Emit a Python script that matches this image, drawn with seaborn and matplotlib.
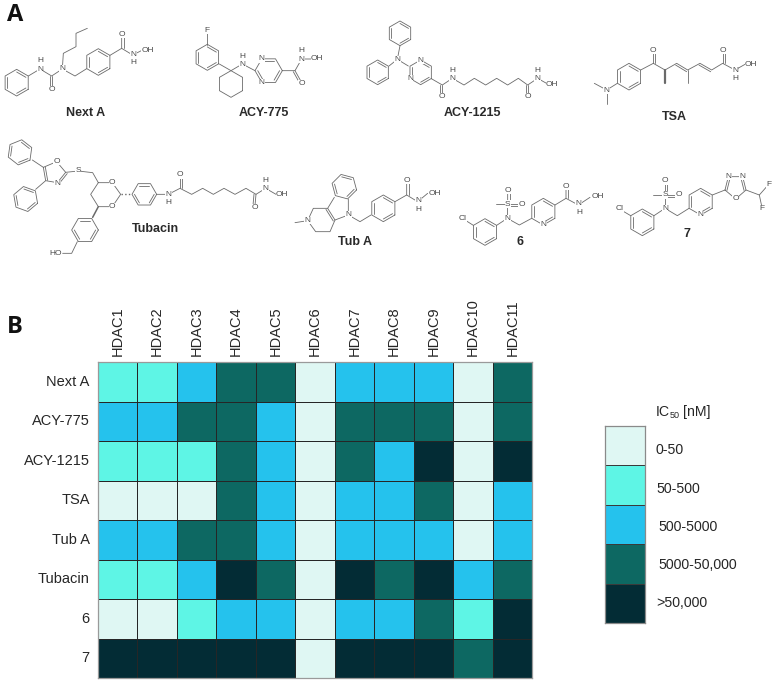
import numpy as np
import pandas as pd
import matplotlib
matplotlib.use("Agg")
import matplotlib.pyplot as plt
from matplotlib.colors import ListedColormap
import seaborn as sns

# ── Data ──────────────────────────────────────────────────────
hdacs = ["HDAC1", "HDAC2", "HDAC3", "HDAC4", "HDAC5", "HDAC6",
         "HDAC7", "HDAC8", "HDAC9", "HDAC10", "HDAC11"]
compounds = ["Next A", "ACY-775", "ACY-1215", "TSA", "Tub A", "Tubacin", "6", "7"]

# potency class per cell, index into ic50_labels
next_a   = [1, 1, 2, 3, 3, 0, 2, 2, 2, 0, 3]
acy_775  = [2, 2, 3, 3, 2, 0, 3, 3, 3, 0, 3]
acy_1215 = [1, 1, 1, 3, 2, 0, 3, 2, 4, 0, 4]
tsa      = [0, 0, 0, 3, 2, 0, 2, 2, 3, 0, 2]
tub_a    = [2, 2, 3, 3, 2, 0, 2, 2, 2, 0, 2]
tubacin  = [1, 1, 2, 4, 3, 0, 4, 3, 4, 2, 3]
cmpd_6   = [0, 0, 1, 2, 2, 0, 2, 2, 3, 1, 4]
cmpd_7   = [4, 4, 4, 4, 4, 0, 4, 4, 4, 3, 4]

ic50_labels = ["0-50", "50-500", "500-5000", "5000-50,000", ">50,000"]
ic50_levels = [0, 1, 2, 3, 4]
palette = ["#DFF7F3", "#5EF5E5", "#25C2ED", "#0D6862", "#032C35"]

# ── Setup ─────────────────────────────────────────────────────
sns.set_theme(style="white")
plt.rcParams["font.family"] = ["Liberation Sans", "DejaVu Sans"]
W, H = 778, 682
TXT = "#262626"
BOND = "#6a6a6a"
fig = plt.figure(figsize=(W / 100, H / 100), dpi=100, facecolor="white")


def px_axes(x0, y0, x1, y1):
    return fig.add_axes([x0 / W, 1 - y1 / H, (x1 - x0) / W, (y1 - y0) / H])


cmap = ListedColormap(palette)

# ── Heatmap ───────────────────────────────────────────────────
df = pd.DataFrame([next_a, acy_775, acy_1215, tsa, tub_a, tubacin, cmpd_6, cmpd_7],
                  index=compounds, columns=hdacs)
ax = px_axes(98, 362, 532, 678)
sns.heatmap(df, ax=ax, cmap=cmap, vmin=-0.5, vmax=4.5, cbar=False,
            linewidths=0.6, linecolor="#262626", square=False)
ax.xaxis.tick_top()
ax.tick_params(axis="both", length=0, labelsize=10.5, colors=TXT)
ax.tick_params(axis="x", pad=4, labelrotation=90)
ax.tick_params(axis="y", pad=6, labelrotation=0)
ax.set_xlabel("")
ax.set_ylabel("")
for s in ax.spines.values():
    s.set_visible(True)
    s.set_color("#9a9a9a")
    s.set_linewidth(0.9)

# ── Legend (as a one column heatmap) ──────────────────────────
lax = px_axes(605, 426, 645, 623)
sns.heatmap(pd.DataFrame({"ic50": ic50_levels}), ax=lax, cmap=cmap, vmin=-0.5, vmax=4.5,
            cbar=False, linewidths=0.5, linecolor="#3a3a3a",
            xticklabels=False, yticklabels=False)
lax.set_xlabel("")
lax.set_ylabel("")
for s in lax.spines.values():
    s.set_visible(True)
    s.set_color("#8a8a8a")
    s.set_linewidth(0.9)

# ── Overlay for panel text and structures, in pixels ──────────
ov = fig.add_axes([0, 0, 1, 1], zorder=5)
ov.set_xlim(0, W)
ov.set_ylim(H, 0)
ov.axis("off")
ov.patch.set_alpha(0)

ov.text(656, 412, "IC", fontsize=10.2, color=TXT, va="center")
ov.text(670, 415, "50", fontsize=6.5, color=TXT, va="center")
ov.text(683, 412, "[nM]", fontsize=10.2, color=TXT, va="center")
for lab, lx, ly in zip(ic50_labels, [656, 656, 658, 658, 656], [450, 489, 527, 565, 603]):
    ov.text(lx, ly, lab, fontsize=10.2, color=TXT, va="center")

ov.text(7, 15, "A", fontsize=17, fontweight="bold", family="Open Sans", color="#111", va="center")
ov.text(7, 327, "B", fontsize=17, fontweight="bold", family="Open Sans", color="#111", va="center")

name_kw = dict(fontsize=9, fontweight="bold", color="#2a2a2a", ha="center", va="center")
ov.text(86, 113, "Next A", **name_kw)
ov.text(264, 113, "ACY-775", **name_kw)
ov.text(472, 113, "ACY-1215", **name_kw)
ov.text(674, 117, "TSA", **name_kw)
ov.text(155, 229, "Tubacin", **name_kw)
ov.text(355, 242, "Tub A", **name_kw)
ov.text(520, 242, "6", **name_kw)
ov.text(687, 234, "7", **name_kw)


# coordinates below are 3x pixels, relative to an origin (ox, oy)
def path(ox, oy, pts, lw=0.6, ls="-"):
    p = np.array(pts, dtype=float) / 3 + [ox, oy]
    ov.plot(p[:, 0], p[:, 1], color=BOND, lw=lw, ls=ls, solid_capstyle="round", zorder=2)


def dbl(ox, oy, a, b, off=6):
    # second line of a double bond, shifted sideways
    a, b = np.array(a, float), np.array(b, float)
    n = np.array([-(b - a)[1], (b - a)[0]])
    n = n / np.hypot(*n) * off
    path(ox, oy, [a + n, b + n])


def ring(ox, oy, cx, cy, r=38, rot=30, inner=(0, 2, 4)):
    ang = np.radians(rot + np.arange(7) * 60)
    pts = np.c_[cx + r * np.cos(ang), cy + r * np.sin(ang)]
    path(ox, oy, pts)
    for i in inner:
        a = pts[i] + (np.array([cx, cy]) - pts[i]) * 0.2
        b = pts[i + 1] + (np.array([cx, cy]) - pts[i + 1]) * 0.2
        path(ox, oy, [a, b])


def atom(ox, oy, x, y, s):
    ov.text(ox + x / 3, oy + y / 3, s, fontsize=6, color="#4a4a4a", ha="center", va="center",
            bbox=dict(fc="white", ec="none", pad=0.2), zorder=3)


# Next A
o = (0, 0)
ring(*o, 50, 248, 40)
ring(*o, 295, 186, 40)
path(*o, [(85, 228), (120, 207), (155, 228), (187, 207), (225, 228), (260, 206)])
path(*o, [(155, 228), (155, 262)])
dbl(*o, (155, 228), (155, 262))
path(*o, [(187, 207), (190, 160), (228, 140), (228, 100), (262, 85)])
path(*o, [(330, 166), (365, 145), (365, 110)])
dbl(*o, (365, 145), (365, 110))
path(*o, [(365, 145), (398, 165), (428, 150)])
for x, y, s in [(120, 208, "N"), (120, 182, "H"), (187, 207, "N"), (155, 268, "O"), (365, 102, "O"),
                (400, 163, "N"), (400, 189, "H"), (444, 150, "OH")]:
    atom(*o, x, y, s)

# ACY-775
ring(*o, 622, 172, 39)
ring(*o, 693, 252, 40, inner=())
ring(*o, 806, 212, 41, rot=0, inner=(0, 2, 4))
path(*o, [(622, 134), (622, 100)])
path(*o, [(658, 192), (693, 212), (727, 192), (765, 212)])
path(*o, [(847, 212), (885, 212), (905, 177), (938, 177)])
path(*o, [(885, 212), (903, 244)])
dbl(*o, (885, 212), (903, 244))
for x, y, s in [(622, 90, "F"), (727, 194, "N"), (727, 168, "H"), (785, 177, "N"), (785, 248, "N"),
                (905, 179, "N"), (905, 153, "H"), (952, 177, "OH"), (905, 250, "O")]:
    atom(*o, x, y, s)

# ACY-1215
o = (355, 0)
ring(*o, 135, 100, 37)
ring(*o, 68, 217, 37)
ring(*o, 197, 217, 37)
path(*o, [(135, 137), (127, 178), (102, 198)])
path(*o, [(127, 178), (160, 198)])
path(*o, [(229, 236), (262, 255), (292, 235), (327, 255), (358, 235), (392, 255),
          (425, 235), (458, 255), (490, 235), (518, 255), (548, 235), (578, 252)])
path(*o, [(262, 255), (262, 285)])
dbl(*o, (262, 255), (262, 285))
path(*o, [(518, 255), (518, 285)])
dbl(*o, (518, 255), (518, 285))
for x, y, s in [(127, 178, "N"), (197, 180, "N"), (165, 235, "N"), (292, 236, "N"), (292, 210, "H"),
                (260, 291, "O"), (518, 291, "O"), (548, 236, "N"), (548, 210, "H"), (592, 253, "OH")]:
    atom(*o, x, y, s)

# TSA
o = (390, 0)
ring(*o, 717, 230, 40)
path(*o, [(682, 250), (650, 270), (613, 250)])
path(*o, [(650, 270), (650, 313)])
path(*o, [(752, 210), (790, 190), (825, 210), (860, 190), (893, 210), (930, 190),
          (965, 210), (998, 190), (1035, 210), (1065, 193)])
path(*o, [(790, 190), (790, 158)])
dbl(*o, (790, 190), (790, 158))
path(*o, [(998, 190), (998, 158)])
dbl(*o, (998, 190), (998, 158))
path(*o, [(825, 210), (825, 250)], lw=1.6)
path(*o, [(893, 210), (893, 250)])
dbl(*o, (860, 190), (893, 210))
dbl(*o, (930, 190), (965, 210))
for x, y, s in [(650, 270, "N"), (790, 150, "O"), (998, 150, "O"), (1035, 210, "N"), (1035, 236, "H"),
                (1084, 193, "OH")]:
    atom(*o, x, y, s)

# Tubacin
o = (0, 130)
ring(*o, 60, 67, 38, rot=38)
ring(*o, 77, 207, 38, rot=20)
path(*o, [(97, 90), (130, 112), (170, 95), (197, 127), (172, 158), (137, 152), (130, 112)])
dbl(*o, (130, 112), (137, 152), off=-6)
dbl(*o, (197, 127), (172, 158), off=-6)
path(*o, [(137, 152), (107, 178)])
path(*o, [(197, 127), (235, 123), (278, 128), (295, 158), (337, 158), (362, 193),
          (337, 230), (295, 230), (272, 193), (295, 158)])
path(*o, [(362, 193), (397, 193)], lw=1, ls=":")
ring(*o, 433, 193, 37, rot=0)
path(*o, [(470, 193), (505, 193), (540, 175), (575, 193), (608, 175), (640, 193),
          (672, 175), (705, 193), (738, 175), (768, 193), (797, 175), (828, 193)])
path(*o, [(540, 175), (540, 142)])
dbl(*o, (540, 175), (540, 142))
path(*o, [(768, 193), (765, 226)])
dbl(*o, (768, 193), (765, 226))
path(*o, [(295, 230), (278, 262)], lw=1.1)
ring(*o, 255, 300, 40, rot=0)
path(*o, [(232, 335), (215, 370), (188, 370)])
for x, y, s in [(170, 95, "O"), (172, 160, "N"), (235, 123, "S"), (337, 158, "O"), (337, 230, "O"),
                (505, 192, "N"), (505, 218, "H"), (540, 135, "O"), (765, 233, "O"), (797, 176, "N"),
                (797, 150, "H"), (847, 195, "OH"), (168, 370, "HO")]:
    atom(*o, x, y, s)

# Tub A
o = (285, 160)
ring(*o, 178, 80, 38, rot=15)
path(*o, [(148, 112), (128, 145), (150, 180), (190, 165), (190, 118)])
dbl(*o, (128, 145), (150, 180), off=6)
path(*o, [(128, 145), (85, 145), (68, 182), (92, 215), (135, 215), (150, 180)])
path(*o, [(68, 182), (30, 188)])
path(*o, [(190, 165), (225, 185), (258, 165)])
ring(*o, 295, 145, 40)
path(*o, [(330, 125), (365, 105), (365, 70)])
dbl(*o, (365, 105), (365, 70))
path(*o, [(365, 105), (398, 125), (428, 100)])
for x, y, s in [(68, 182, "N"), (190, 163, "N"), (365, 62, "O"), (400, 122, "N"), (400, 148, "H"),
                (449, 100, "OH")]:
    atom(*o, x, y, s)

# 6
o = (390, 0)
ring(*o, 285, 696, 40)
ring(*o, 460, 635, 40)
path(*o, [(250, 676), (228, 662)])
path(*o, [(320, 676), (352, 655), (388, 675), (425, 655)])
path(*o, [(352, 655), (353, 612), (353, 580)])
dbl(*o, (353, 612), (353, 580))
path(*o, [(353, 612), (385, 612)])
dbl(*o, (353, 612), (385, 612))
path(*o, [(318, 612), (353, 612)])
path(*o, [(495, 615), (528, 595), (528, 565)])
dbl(*o, (528, 595), (528, 565))
path(*o, [(528, 595), (565, 615), (600, 592)])
for x, y, s in [(218, 655, "Cl"), (352, 655, "N"), (353, 612, "S"), (355, 570, "O"), (395, 613, "O"),
                (460, 675, "N"), (528, 558, "O"), (565, 610, "N"), (567, 636, "H"), (624, 590, "OH")]:
    atom(*o, x, y, s)

# 7
ring(*o, 757, 667, 40)
ring(*o, 932, 605, 40)
path(*o, [(722, 647), (700, 634)])
path(*o, [(792, 647), (825, 625), (862, 647), (897, 625)])
path(*o, [(825, 625), (825, 585), (825, 552)])
dbl(*o, (825, 585), (825, 552))
path(*o, [(825, 585), (858, 585)])
dbl(*o, (825, 585), (858, 585))
path(*o, [(788, 585), (825, 585)])
path(*o, [(967, 585), (1005, 570), (1015, 530), (1058, 530), (1068, 570), (1037, 597), (1005, 570)])
dbl(*o, (1005, 570), (1015, 530))
dbl(*o, (1058, 530), (1068, 570))
path(*o, [(1068, 570), (1108, 585), (1130, 560)])
path(*o, [(1108, 585), (1115, 618)])
for x, y, s in [(690, 627, "Cl"), (825, 625, "N"), (825, 585, "S"), (825, 543, "O"), (867, 585, "O"),
                (932, 645, "N"), (1015, 530, "N"), (1058, 530, "N"), (1037, 597, "O"),
                (1137, 555, "F"), (1115, 625, "F")]:
    atom(*o, x, y, s)

fig.savefig("out.png", dpi=100)
plt.close(fig)
